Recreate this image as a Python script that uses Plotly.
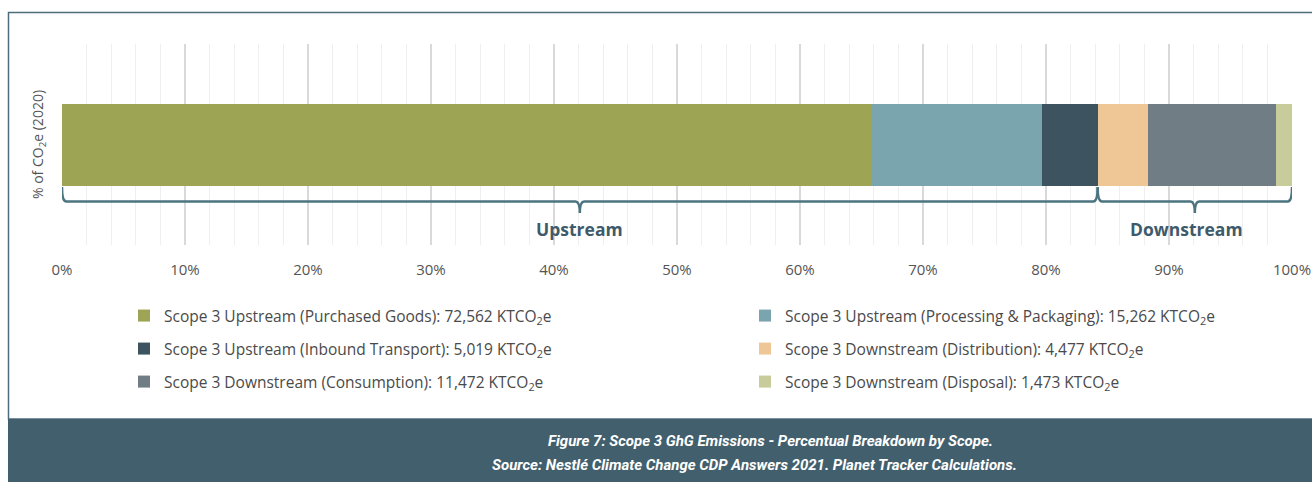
import plotly.graph_objects as go

# ---------------- data ----------------
labels = [
    "Scope 3 Upstream (Purchased Goods)",
    "Scope 3 Upstream (Processing & Packaging)",
    "Scope 3 Upstream (Inbound Transport)",
    "Scope 3 Downstream (Distribution)",
    "Scope 3 Downstream (Consumption)",
    "Scope 3 Downstream (Disposal)",
]
values_kt = [72562, 15262, 5019, 4477, 11472, 1473]
groups = ["Upstream", "Upstream", "Upstream", "Downstream", "Downstream", "Downstream"]
colors = ["#9da454", "#7aa5ae", "#3d5360", "#efc797", "#717d84", "#c8cb9a"]
x_ticks = [0, 10, 20, 30, 40, 50, 60, 70, 80, 90, 100]
x_tick_labels = [f"{v}%" for v in x_ticks]

# ---------------- geometry helpers (window pixel coords) ----------------
W, H = 1312, 482
PL, PR = 62, 1292         # plot left / right px
PT, PB = 44, 245          # plot top / bottom px


def px_x(px):
    return (px - PL) / (PR - PL)


def px_y(py):
    return (PB - py) / (PB - PT)


def data_y(py):  # y axis range [-0.5, 0.5]
    return 0.5 - (py - PT) / (PB - PT)


total = sum(values_kt)
pcts = [v / total * 100 for v in values_kt]

legend_ids = ["legend", "legend2", "legend3", "legend4", "legend5", "legend6"]
legend_pos = [(124, 316), (745, 316), (124, 349), (745, 349), (124, 382), (745, 382)]

fig = go.Figure()
for lab, v, p, c, lg in zip(labels, values_kt, pcts, colors, legend_ids):
    fig.add_trace(go.Bar(
        x=[p], y=[0], orientation="h", width=0.408,
        name=f"{lab}: {v:,} KTCO<sub>2</sub>e",
        marker=dict(color=c, line=dict(width=0)),
        legend=lg,
        hovertemplate=f"{lab}<br>{v:,} KTCO2e<br>%{{x:.1f}}%<extra></extra>",
    ))

# ---------------- braces ----------------
brace_col = "#4b7480"
shapes = []
annotations = []
yb, yl, yt = data_y(187), data_y(201.5), data_y(213)
rx = 0.35
start = 0.0
for gname, shift in [("Upstream", 0), ("Downstream", -8)]:
    seg = sum(p for p, g in zip(pcts, groups) if g == gname)
    a, b = start, start + seg
    m = (a + b) / 2
    path = (f"M{a},{yb} Q{a},{yl} {a+rx},{yl} L{m-rx},{yl} Q{m},{yl} {m},{yt} "
            f"Q{m},{yl} {m+rx},{yl} L{b-rx},{yl} Q{b},{yl} {b},{yb}")
    shapes.append(dict(type="path", path=path, xref="x", yref="y",
                       line=dict(color=brace_col, width=2.5), layer="above"))
    annotations.append(dict(x=m, y=data_y(229), xref="x", yref="y", text=f"<b>{gname}</b>",
                            showarrow=False, xshift=shift,
                            font=dict(family="Open Sans", size=17.5, color="#3e5a6b")))
    start = b

# ---------------- frame and banner ----------------
shapes.append(dict(type="rect", xref="paper", yref="paper",
                   x0=px_x(8.5), x1=px_x(1400), y0=px_y(419), y1=px_y(12.5),
                   line=dict(color="#4f6b7e", width=1.5), fillcolor="rgba(0,0,0,0)", layer="below"))
shapes.append(dict(type="rect", xref="paper", yref="paper",
                   x0=px_x(8), x1=px_x(1400), y0=px_y(500), y1=px_y(419),
                   line=dict(width=0), fillcolor="#425f6d", layer="below"))
banner_font = dict(family="Roboto, Open Sans, sans-serif", size=15, color="white")
annotations.append(dict(
    xref="paper", yref="paper", x=px_x(770), y=px_y(441), xanchor="center", yanchor="middle",
    showarrow=False,
    text="<b><i>Figure 7: Scope 3 GhG Emissions - Percentual Breakdown by Scope.</i></b>",
    font=banner_font))
annotations.append(dict(
    xref="paper", yref="paper", x=px_x(755), y=px_y(465), xanchor="center", yanchor="middle",
    showarrow=False,
    text="<b><i>Source: Nestlé Climate Change CDP Answers 2021. Planet Tracker Calculations.</i></b>",
    font=banner_font))

legends = {}
for lg, (lx, ly) in zip(legend_ids, legend_pos):
    legends[lg] = dict(orientation="v", xanchor="left", yanchor="middle",
                       x=px_x(lx), y=px_y(ly),
                       font=dict(family="Open Sans", size=15.5, color="#4a4a4a"),
                       bgcolor="rgba(0,0,0,0)", borderwidth=0,
                       itemclick=False, itemdoubleclick=False)

fig.update_layout(
    width=W, height=H,
    margin=dict(l=PL, r=W - PR, t=PT, b=H - PB, autoexpand=False),
    paper_bgcolor="white", plot_bgcolor="white",
    barmode="stack", bargap=0,
    showlegend=True,
    **legends,
    xaxis=dict(range=[0, 100], tickvals=x_ticks, ticktext=x_tick_labels,
               showline=False, zeroline=False, automargin=False,
               showgrid=True, gridcolor="#d9d9d9", gridwidth=1.5,
               minor=dict(dtick=2, showgrid=True, gridcolor="#efefef", gridwidth=1),
               ticks="", ticklabelstandoff=14,
               tickfont=dict(family="Open Sans", size=15, color="#555555"), fixedrange=True),
    yaxis=dict(range=[-0.5, 0.5], showticklabels=False, showgrid=False, zeroline=False,
               showline=False, fixedrange=True, automargin=False,
               title=dict(text="% of CO<sub>2</sub>e (2020)", standoff=14,
                          font=dict(family="Open Sans", size=14, color="#555555"))),
    shapes=shapes, annotations=annotations,
    font=dict(family="Open Sans"),
)

fig.write_html(
    "out.html",
    config={"displayModeBar": False},
    post_script="document.body.style.margin='0';document.body.style.overflow='hidden';",
)
